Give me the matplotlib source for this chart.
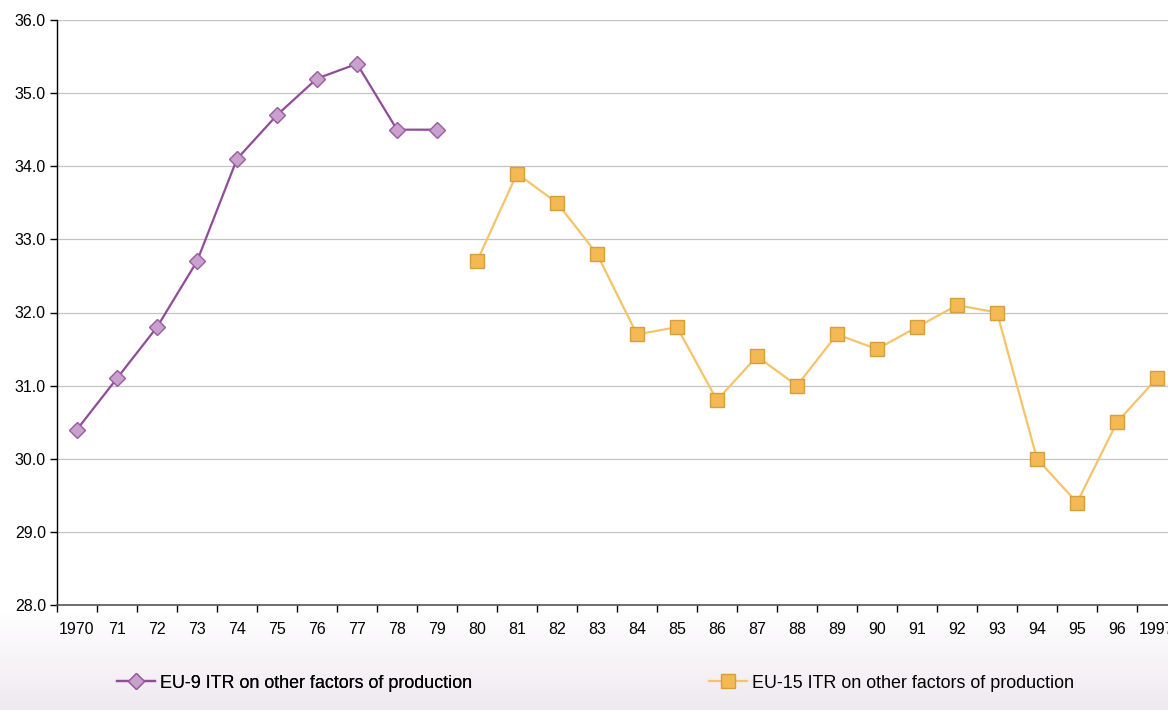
import matplotlib
matplotlib.use("Agg")
import matplotlib.pyplot as plt
import numpy as np
from matplotlib.colors import LinearSegmentedColormap

plt.rcParams['font.family'] = ['Liberation Sans', 'DejaVu Sans']

years = ['1970', '71', '72', '73', '74', '75', '76', '77', '78', '79',
         '80', '81', '82', '83', '84', '85', '86', '87', '88', '89',
         '90', '91', '92', '93', '94', '95', '96', '1997']
eu9_years = ['1970', '71', '72', '73', '74', '75', '76', '77', '78', '79']
eu9_values = [30.4, 31.1, 31.8, 32.7, 34.1, 34.7, 35.2, 35.4, 34.5, 34.5]
eu15_years = ['80', '81', '82', '83', '84', '85', '86', '87', '88', '89',
              '90', '91', '92', '93', '94', '95', '96', '1997']
eu15_values = [32.7, 33.9, 33.5, 32.8, 31.7, 31.8, 30.8, 31.4, 31.0, 31.7,
               31.5, 31.8, 32.1, 32.0, 30.0, 29.4, 30.5, 31.1]
eu9_label = 'EU-9 ITR on other factors of production'
eu15_label = 'EU-15 ITR on other factors of production'
yticks = [28.0, 29.0, 30.0, 31.0, 32.0, 33.0, 34.0, 35.0, 36.0]

W, H = 1168, 710
fig = plt.figure(figsize=(W / 100, H / 100), dpi=100)

# gradient background for legend area
bg = fig.add_axes([0, 0, 1, 1], zorder=-10)
grad = np.linspace(0, 1, 256).reshape(-1, 1)
cmap = LinearSegmentedColormap.from_list('g', ['#ffffff', '#efe9f0'])
bg.imshow(grad, aspect='auto', cmap=cmap, extent=[0, 1, 0, (H - 612) / H], origin='upper')
bg.set_xlim(0, 1)
bg.set_ylim(0, 1)
bg.axis('off')

left = 57 / W
bottom = (H - 605) / H
height = (605 - 20) / H
width = 28 * 40 / W
ax = fig.add_axes([left, bottom, width, height])

idx = {y: i for i, y in enumerate(years)}
x9 = [idx[y] for y in eu9_years]
x15 = [idx[y] for y in eu15_years]

l9, = ax.plot(x9, eu9_values, color='#8f4c97', lw=1.6, marker='D', markersize=8.5,
              markerfacecolor='#c8a2cd', markeredgecolor='#9a5ba1', markeredgewidth=1.0,
              label=eu9_label, zorder=3)
l15, = ax.plot(x15, eu15_values, color='#f5c468', lw=1.6, marker='s', markersize=9.5,
               markerfacecolor='#f3b955', markeredgecolor='#d99d3a', markeredgewidth=1.0,
               label=eu15_label, zorder=3)

ax.set_xlim(-0.5, len(years) - 0.5)
ax.set_ylim(28, 36)
ax.set_yticks(yticks)
ax.set_yticklabels([f'{v:.1f}' for v in yticks])
ax.yaxis.grid(True, color='#c4c4c4', lw=0.9)
ax.set_axisbelow(True)

ax.set_xticks(np.arange(-0.5, len(years), 1.0))
ax.set_xticklabels([])
ax.set_xticks(np.arange(len(years)), minor=True)
ax.set_xticklabels(years, minor=True)
ax.tick_params(axis='x', which='minor', length=0, pad=12, labelsize=11.5)
ax.tick_params(axis='x', which='major', length=5, direction='out', width=1)
ax.tick_params(axis='y', length=5, direction='out', width=1, labelsize=11.5, pad=3)

for s in ['top', 'right']:
    ax.spines[s].set_visible(False)
ax.spines['left'].set_color('black')
ax.spines['bottom'].set_color('#555555')
ax.spines['left'].set_linewidth(1.0)
ax.spines['bottom'].set_linewidth(1.2)
ax.set_facecolor('none')

y_leg = 1 - 683 / H
leg1 = fig.legend(handles=[l9], loc='center left', bbox_to_anchor=(117 / W, y_leg),
                  frameon=False, fontsize=12.9, handlelength=2.1, handletextpad=0.3,
                  borderpad=0, borderaxespad=0)
leg2 = fig.legend(handles=[l15], loc='center left', bbox_to_anchor=(709 / W, y_leg),
                  frameon=False, fontsize=12.9, handlelength=2.1, handletextpad=0.3,
                  borderpad=0, borderaxespad=0)
fig.add_artist(leg1)

fig.savefig('out.png', dpi=100)
